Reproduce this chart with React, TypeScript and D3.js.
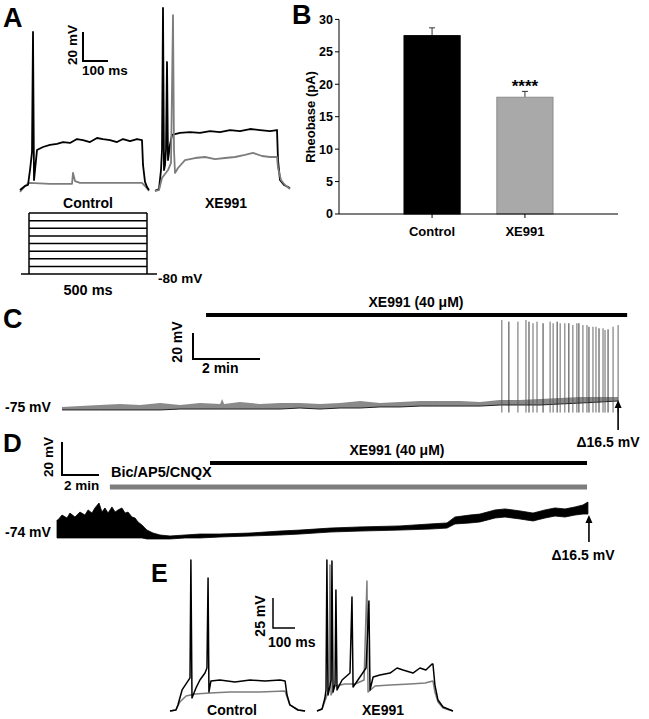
import React from 'react';
import * as d3 from 'd3';

// ---------- Panel A: current-clamp traces (time in ms, voltage in mV) ----------
const aCtrlBlackT = [0, 20, 32, 40, 48, 52, 56, 68, 92, 120, 148, 172, 200, 228, 252, 280, 308, 332, 360, 388, 412, 440, 468, 488, 492, 500, 508, 516];
const aCtrlBlackV = [-82.8, -80, -79.3, -69, -56.6, 26.2, -75.9, -55.2, -53.1, -51.7, -51, -49.7, -50.3, -47.6, -48.3, -49.7, -46.9, -47.6, -48.3, -49.7, -47.6, -49, -47.6, -48.3, -65.5, -77.2, -80.7, -82.8];
const aCtrlGrayT = [0, 20, 36, 120, 208, 212, 220, 240, 360, 488, 500, 516];
const aCtrlGrayV = [-84.1, -80, -77.9, -78.6, -78.6, -71, -76.6, -77.9, -77.9, -77.9, -80, -83.4];
const aXeBlackT = [12, 28, 36, 40, 44, 48, 52, 56, 60, 64, 72, 80, 112, 152, 192, 232, 272, 312, 352, 392, 432, 472, 500, 504, 512, 528, 552];
const aXeBlackV = [-83.4, -82.1, -69, -55.2, 42.8, -69, -65.5, -55.2, 5.5, -62.1, -51.7, -44.8, -43.4, -42.8, -43.4, -42.1, -42.8, -41.4, -42.1, -40.7, -41.4, -42.1, -41.4, -62.1, -75.9, -79.3, -81.4];
const aXeGrayT = [12, 28, 40, 64, 76, 84, 88, 92, 104, 132, 172, 212, 252, 292, 332, 372, 404, 440, 472, 500, 504, 516, 532, 552];
const aXeGrayV = [-83.4, -82.8, -74.5, -69, -64.1, 37.9, -55.2, -71, -67.6, -62.1, -60.7, -60, -61.4, -60.7, -60, -58.6, -57.2, -59.3, -60, -60, -67.6, -75.9, -79.3, -82.1];
const stepLevels = [0, 1, 2, 3, 4, 5, 6, 7, 8];
const stepDuration = 500;

// ---------- Panel B: rheobase ----------
const bCategories = ['Control', 'XE991'];
const bMeans = [27.5, 18.0];
const bErrors = [1.2, 0.9];
const bTicks = [0, 5, 10, 15, 20, 25, 30];

// ---------- Panel C: long recording (time in min, voltage in mV) ----------
const cTime = [0, 0.54, 1.13, 1.73, 2.33, 2.93, 3.52, 4.12, 4.72, 4.78, 4.84, 5.31, 5.91, 6.51, 7.1, 7.7, 8.3, 8.9, 9.49, 10.09, 10.69, 11.28, 11.88, 12.48, 13.07, 13.67, 14.27, 14.87, 15.46, 16.06, 16.6];
const cLow = [-76.5, -76.5, -76.5, -76.5, -76.5, -76.5, -75.8, -75.8, -75.8, -75.8, -75.8, -75.8, -75.8, -75.8, -75, -75.8, -75, -75, -74.2, -74.2, -73.5, -73.5, -73.5, -73.5, -72.7, -72.7, -72.7, -71.9, -71.2, -70.4, -69.6];
const cHigh = [-74.2, -73.5, -72.7, -71.9, -72.7, -71.2, -72.7, -71.2, -71.9, -68.1, -71.9, -70.4, -71.9, -71.2, -71.2, -71.9, -71.2, -69.6, -71.2, -70.4, -69.6, -69.6, -69.6, -70.4, -68.8, -68.8, -68.1, -67.3, -66.5, -66.5, -66.5];
const cSpikeTimes = [13.13, 13.34, 13.61, 13.85, 13.94, 14.06, 14.18, 14.36, 14.57, 14.66, 14.78, 14.87, 15.01, 15.13, 15.25, 15.37, 15.43, 15.55, 15.67, 15.73, 15.85, 15.94, 16.03, 16.15, 16.21, 16.3, 16.45, 16.6];
const cSpikePeaks = [-7.3, -8.6, -8.6, -7.3, -8.6, -9.8, -8.6, -9.8, -8.6, -9.8, -8.6, -9.8, -9.8, -9.8, -11.2, -9.8, -9.8, -11.2, -11.2, -12.5, -12.5, -12.5, -13.7, -13.7, -15, -14.5, -12.5, -11.2];
const cSpikeTrough = -78.5;
const cDrugWindow = [4.3, 16.87];
const cShift = 'Δ16.5 mV';

// ---------- Panel D: recording with synaptic blockers (min, mV) ----------
const dTime = [0, 0.05, 0.27, 0.54, 0.7, 0.97, 1.24, 1.51, 1.68, 1.89, 2.05, 2.27, 2.43, 2.59, 2.76, 2.97, 3.14, 3.3, 3.51, 3.68, 3.84, 4.05, 4.22, 4.38, 4.59, 4.86, 5.19, 5.57, 6.11, 6.92, 7.73, 8.81, 10.43, 12.05, 13.14, 14.76, 16.38, 18.54, 20.16, 21.08, 21.51, 22.32, 22.86, 23.68, 24.22, 25.03, 25.73, 26.38, 26.92, 27.46, 28.0, 28.43, 28.7];
const dLow = [-75.2, -75.2, -75.2, -75.2, -75.2, -75.2, -75.2, -75.2, -75.2, -75.2, -75.2, -75.2, -75.2, -75.2, -75.2, -75.2, -75.2, -75.2, -75.2, -75.2, -75.2, -75.2, -75.2, -75.2, -75.2, -75.8, -75.8, -75.8, -75.8, -75.2, -75.2, -74.6, -74, -73.4, -72.8, -71.6, -71, -70.4, -69.8, -69.2, -66.7, -66.1, -65.5, -63.1, -62.5, -63.7, -64.9, -63.1, -61.9, -62.5, -61.3, -60.7, -60.7];
const dHigh = [-64.3, -64.3, -61.3, -63.1, -60.1, -62.5, -59.5, -61.3, -58.2, -60.1, -57.0, -54.0, -59.5, -57.0, -60.1, -56.4, -59.5, -58.2, -57.0, -60.1, -59.5, -62.5, -63.1, -65.5, -67.3, -70.4, -72.2, -73.4, -74, -73.4, -72.8, -72.8, -72.2, -71, -70.4, -69.2, -68.5, -67.9, -66.7, -66.1, -62.5, -61.3, -60.7, -58.2, -57.6, -58.8, -60.1, -58.2, -57.0, -57.6, -56.4, -55.2, -53.4];
const dBlockerWindow = [2.86, 28.65];
const dDrugWindow = [8.27, 28.65];
const dShift = 'Δ16.5 mV';

// ---------- Panel E: current-clamp traces (ms, mV) ----------
const eCtrlBlackT = [0, 27, 36, 55, 73, 91, 95, 100, 118, 136, 159, 168, 173, 177, 186, 227, 295, 364, 432, 500, 523, 532, 545, 582, 614];
const eCtrlBlackV = [-80.8, -80, -75.8, -63.3, -58.3, -53.3, 45, -70, -61.7, -55, -49.2, -45, 30, -65, -55.8, -55, -56.7, -55, -55.8, -55, -55.8, -67.5, -75.8, -80, -80.8];
const eCtrlGrayT = [0, 27, 45, 73, 114, 182, 273, 409, 523, 532, 545, 582, 614];
const eCtrlGrayV = [-80.8, -80, -73.3, -68.3, -66.7, -65.8, -65, -65, -64.2, -69.2, -75.8, -80, -80.8];
const eXeBlackT = [0, 23, 36, 41, 45, 50, 59, 64, 68, 73, 82, 86, 91, 114, 150, 159, 164, 186, 223, 236, 241, 255, 286, 332, 364, 391, 436, 468, 495, 523, 527, 536, 550, 573, 618];
const eXeBlackV = [-80.8, -79.2, -70, -63.3, 45, -67.5, -60, -55, 44.2, -65, -58.3, 20, -63.3, -55, -49.2, 14.2, -60.8, -55, -45, 10.8, -63.3, -52.5, -50.8, -49.2, -45, -46.7, -49.2, -45, -46.7, -41.7, -41.7, -59.2, -71.7, -77.5, -80.8];
const eXeGrayT = [0, 23, 41, 55, 59, 64, 82, 127, 173, 214, 227, 232, 264, 332, 423, 491, 527, 536, 550, 573, 618];
const eXeGrayV = [-80.8, -79.2, -70, -61.7, 40.8, -67.5, -60, -58.3, -58.3, -55, 27.5, -65, -60, -59.2, -58.3, -57.5, -55.8, -65, -73.3, -78.3, -80.8];

const FONT = "'Liberation Sans', Arial, Helvetica, sans-serif";
const GRAY = '#7d7d7d';

type Sc = d3.ScaleLinear<number, number>;

function linePath(ts: number[], vs: number[], x: Sc, y: Sc) {
  return d3.line<number>().x((_, i) => x(ts[i])).y((_, i) => y(vs[i]))(ts) || '';
}
function areaPath(ts: number[], lo: number[], hi: number[], x: Sc, y: Sc) {
  return d3.area<number>().x((_, i) => x(ts[i])).y0((_, i) => y(lo[i])).y1((_, i) => y(hi[i]))(ts) || '';
}

const T = (props: any) => (
  <text fontFamily={FONT} fontWeight="bold" fill="#000" {...props} />
);

function ScaleBar({ x0, y0, w, h, vLabel, hLabel, vx, vy, hx, hy, size = 13.5, sw = 2 }: any) {
  return (
    <g>
      <path d={`M${x0},${y0 - h}V${y0}H${x0 + w}`} fill="none" stroke="#000" strokeWidth={sw} />
      <T x={0} y={0} fontSize={size} textAnchor="middle" transform={`translate(${vx},${vy}) rotate(-90)`}>{vLabel}</T>
      <T x={hx} y={hy} fontSize={size}>{hLabel}</T>
    </g>
  );
}

function Arrow({ x, y1, y2 }: any) {
  return (
    <g>
      <line x1={x} x2={x} y1={y1} y2={y2 + 6} stroke="#000" strokeWidth={1.6} />
      <path d={`M${x - 3.5},${y2 + 8}L${x},${y2}L${x + 3.5},${y2 + 8}Z`} fill="#000" />
    </g>
  );
}

export default function App() {
  // Panel A scales
  const xACtrl = d3.scaleLinear().domain([0, 100]).range([20, 45]);
  const xAXe = d3.scaleLinear().domain([0, 100]).range([152, 177]);
  const yA = d3.scaleLinear().domain([-80, -60]).range([186, 157]);
  const xStep = d3.scaleLinear().domain([0, stepDuration]).range([29, 147]);
  const yStep = d3.scaleLinear().domain([0, 8]).range([274, 213]);

  // Panel B scales
  const yB = d3.scaleLinear().domain([0, 30]).range([214, 19.4]);
  const xB = d3.scaleBand<string>().domain(bCategories).range([339, 618]).paddingInner(0.395).paddingOuter(0.7);

  // Panel C scales
  const xC = d3.scaleLinear().domain([0, 2]).range([62, 129]);
  const yC = d3.scaleLinear().domain([-75, -55]).range([408, 382]);

  // Panel D scales
  const xD = d3.scaleLinear().domain([0, 2]).range([57, 94]);
  const yD = d3.scaleLinear().domain([-74, -54]).range([536, 503]);

  // Panel E scales
  const xECtrl = d3.scaleLinear().domain([0, 100]).range([170, 192]);
  const xEXe = d3.scaleLinear().domain([0, 100]).range([317, 339]);
  const yE = d3.scaleLinear().domain([-80, -55]).range([710, 680]);

  const cEnd = cTime[cTime.length - 1];
  const dEnd = dTime[dTime.length - 1];

  return (
    <div style={{ position: 'absolute', left: 0, top: 0 }}>
      <svg width={649} height={719} viewBox="0 0 649 719" style={{ display: 'block', background: '#fff' }}>
        <rect width={649} height={719} fill="#fff" />

        {/* ===== Panel A ===== */}
        <T x={3} y={27} fontSize={27}>A</T>
        <ScaleBar x0={83} y0={61} w={xACtrl(100) - xACtrl(0)} h={yA(-80) - yA(-60)}
          vLabel="20 mV" hLabel="100 ms" vx={77} vy={45} hx={82} hy={75} />
        <path d={linePath(aCtrlGrayT, aCtrlGrayV, xACtrl, yA)} fill="none" stroke={GRAY} strokeWidth={1.8} strokeLinejoin="round" />
        <path d={linePath(aCtrlBlackT, aCtrlBlackV, xACtrl, yA)} fill="none" stroke="#000" strokeWidth={1.8} strokeLinejoin="round" />
        <path d={linePath(aXeBlackT, aXeBlackV, xAXe, yA)} fill="none" stroke="#000" strokeWidth={1.8} strokeLinejoin="round" />
        <path d={linePath(aXeGrayT, aXeGrayV, xAXe, yA)} fill="none" stroke={GRAY} strokeWidth={1.8} strokeLinejoin="round" />
        <T x={88} y={208} fontSize={14} textAnchor="middle">Control</T>
        <T x={226} y={208} fontSize={14} textAnchor="middle">XE991</T>
        {/* step protocol */}
        {stepLevels.map((s) => (
          <line key={s} x1={s === 0 ? 21 : xStep(0)} x2={s === 0 ? 157 : xStep(stepDuration)} y1={yStep(s)} y2={yStep(s)} stroke="#000" strokeWidth={1.5} />
        ))}
        <line x1={xStep(0)} x2={xStep(0)} y1={yStep(0)} y2={yStep(8)} stroke="#000" strokeWidth={1.5} />
        <line x1={xStep(stepDuration)} x2={xStep(stepDuration)} y1={yStep(0)} y2={yStep(8)} stroke="#000" strokeWidth={1.5} />
        <T x={158} y={283} fontSize={13.5}>-80 mV</T>
        <T x={88} y={295} fontSize={14.5} textAnchor="middle">500 ms</T>

        {/* ===== Panel B ===== */}
        <T x={292} y={24} fontSize={27}>B</T>
        <line x1={339} x2={339} y1={yB(0)} y2={yB(30)} stroke="#000" strokeWidth={1} />
        {bTicks.map((t) => (
          <g key={t}>
            <line x1={335} x2={339} y1={yB(t)} y2={yB(t)} stroke="#000" strokeWidth={1} />
            <T x={333} y={yB(t)} dy="0.35em" fontSize={12.5} textAnchor="end">{t}</T>
          </g>
        ))}
        <T x={0} y={0} fontSize={13} textAnchor="middle" transform={`translate(315,117) rotate(-90)`}>Rheobase (pA)</T>
        {bCategories.map((c, i) => {
          const x0 = xB(c) as number;
          const bw = xB.bandwidth();
          const cx = x0 + bw / 2;
          return (
            <g key={c}>
              <line x1={cx} x2={cx} y1={yB(bMeans[i])} y2={yB(bMeans[i] + bErrors[i])} stroke="#333" strokeWidth={1} />
              <line x1={cx - 3} x2={cx + 3} y1={yB(bMeans[i] + bErrors[i])} y2={yB(bMeans[i] + bErrors[i])} stroke="#333" strokeWidth={1} />
              <rect x={x0} y={yB(bMeans[i])} width={bw} height={yB(0) - yB(bMeans[i])}
                fill={i === 0 ? '#000' : '#a9a9a9'} stroke={i === 0 ? '#000' : '#8c8c8c'} strokeWidth={1} />
              <line x1={cx} x2={cx} y1={yB(0)} y2={yB(0) + 4} stroke="#000" strokeWidth={1} />
              <T x={cx} y={236} fontSize={13} textAnchor="middle">{c}</T>
            </g>
          );
        })}
        <line x1={339} x2={618} y1={yB(0)} y2={yB(0)} stroke="#000" strokeWidth={1.2} />
        <T x={(xB('XE991') as number) + xB.bandwidth() / 2} y={92} fontSize={17} textAnchor="middle">****</T>

        {/* ===== Panel C ===== */}
        <T x={3} y={328} fontSize={27}>C</T>
        <T x={416} y={307} fontSize={14} textAnchor="middle">XE991 (40 μM)</T>
        <line x1={xC(cDrugWindow[0])} x2={xC(cDrugWindow[1])} y1={315} y2={315} stroke="#000" strokeWidth={4} />
        <ScaleBar x0={193} y0={359} w={xC(2) - xC(0)} h={yC(-75) - yC(-55)}
          vLabel="20 mV" hLabel="2 min" vx={182} vy={342} hx={202} hy={373} size={14} />
        <T x={5} y={412} fontSize={14}>-75 mV</T>
        <path d={areaPath(cTime, cLow, cHigh, xC, yC)} fill="#8a8a8a" stroke="none" />
        <path d={linePath(cTime, cLow, xC, yC)} fill="none" stroke="#222" strokeWidth={1} />
        {cSpikeTimes.map((t, i) => (
          <line key={i} x1={xC(t)} x2={xC(t)} y1={yC(cSpikeTrough)} y2={yC(cSpikePeaks[i])} stroke={i % 3 === 1 ? '#222' : '#555'} strokeWidth={0.9} />
        ))}
        <Arrow x={xC(cEnd)} y1={430} y2={400} />
        <T x={608} y={447} fontSize={14} textAnchor="middle">{cShift}</T>

        {/* ===== Panel D ===== */}
        <T x={3} y={452} fontSize={26}>D</T>
        <ScaleBar x0={62} y0={475} w={xD(2) - xD(0)} h={yD(-74) - yD(-54)}
          vLabel="20 mV" hLabel="2 min" vx={53} vy={457} hx={64} hy={490} size={13.5} />
        <T x={397} y={455} fontSize={14} textAnchor="middle">XE991 (40 μM)</T>
        <line x1={xD(dDrugWindow[0])} x2={xD(dDrugWindow[1])} y1={463} y2={463} stroke="#000" strokeWidth={4} />
        <T x={111} y={477} fontSize={14.5}>Bic/AP5/CNQX</T>
        <line x1={xD(dBlockerWindow[0])} x2={xD(dBlockerWindow[1])} y1={487} y2={487} stroke={GRAY} strokeWidth={5} />
        <T x={5} y={537} fontSize={14}>-74 mV</T>
        <path d={areaPath(dTime, dLow, dHigh, xD, yD)} fill="#000" stroke="#000" strokeWidth={0.8} strokeLinejoin="round" />
        <Arrow x={xD(dEnd) + 1} y1={542} y2={515} />
        <T x={583} y={560} fontSize={14} textAnchor="middle">{dShift}</T>

        {/* ===== Panel E ===== */}
        <T x={151} y={582} fontSize={25}>E</T>
        <ScaleBar x0={273} y0={628} w={xECtrl(100) - xECtrl(0)} h={yE(-80) - yE(-55)}
          vLabel="25 mV" hLabel="100 ms" vx={265} vy={616} hx={268} hy={647} size={14} sw={1.5} />
        <path d={linePath(eCtrlGrayT, eCtrlGrayV, xECtrl, yE)} fill="none" stroke={GRAY} strokeWidth={1.5} strokeLinejoin="round" />
        <path d={linePath(eCtrlBlackT, eCtrlBlackV, xECtrl, yE)} fill="none" stroke="#000" strokeWidth={1.5} strokeLinejoin="round" />
        <path d={linePath(eXeGrayT, eXeGrayV, xEXe, yE)} fill="none" stroke={GRAY} strokeWidth={1.5} strokeLinejoin="round" />
        <path d={linePath(eXeBlackT, eXeBlackV, xEXe, yE)} fill="none" stroke="#000" strokeWidth={1.5} strokeLinejoin="round" />
        <T x={232} y={715} fontSize={14} textAnchor="middle">Control</T>
        <T x={383} y={715} fontSize={14} textAnchor="middle">XE991</T>
      </svg>
    </div>
  );
}
